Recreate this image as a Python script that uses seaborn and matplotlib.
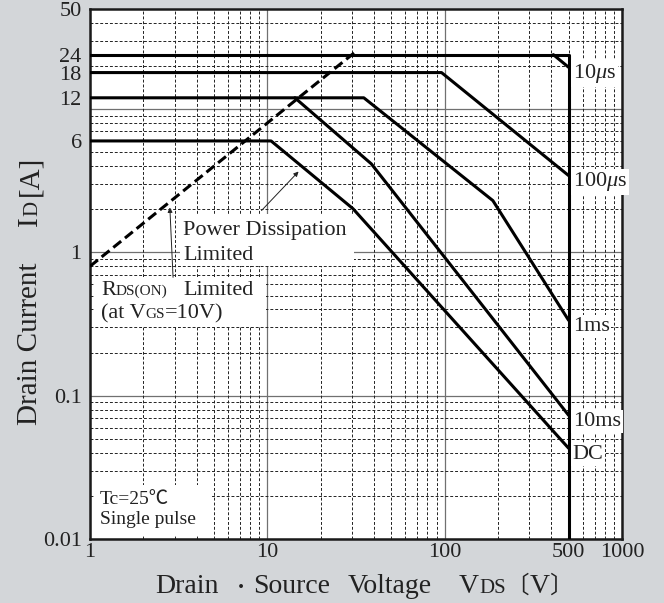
import matplotlib
matplotlib.use("Agg")
import matplotlib.pyplot as plt
import matplotlib.transforms as mtransforms
from matplotlib.patches import Rectangle
import pandas as pd
import seaborn as sns

# valores (V en volts, I en amperes)
lim_v = [1, 500, 500]
lim_i = [24, 24, 0.01]
us10_v = [410, 500]
us10_i = [24, 19.6]
us100_v = [1, 96, 500]
us100_i = [18, 18, 3.44]
ms1_v = [1, 35, 187, 500]
ms1_i = [12, 12, 2.3, 0.336]
ms10_v = [14.3, 38.6, 500]
ms10_i = [12, 4.15, 0.073]
dc_v = [1, 10.5, 30.4, 500]
dc_i = [6, 6, 2.02, 0.043]
rds_v = [1, 32]
rds_i = [0.8, 25.6]

curve_names = ["10$\\mu$s", "100$\\mu$s", "1ms", "10ms", "DC"]
curve_end_i = [19.6, 3.44, 0.336, 0.073, 0.043]

xticks = [1, 10, 100, 500, 1000]
xtick_labels = ["1", "10", "100", "500", "1000"]
yticks = [0.01, 0.1, 1, 6, 12, 18, 24, 50]
ytick_labels = ["0.01", "0.1", "1", "6", "12", "18", "24", "50"]

W, H = 664, 603
FONT = ["Liberation Serif", "Noto Sans CJK JP"]
INK = "#222222"

sns.set_theme(style="white")
plt.rcParams["font.family"] = FONT
plt.rcParams["mathtext.fontset"] = "custom"
plt.rcParams["mathtext.rm"] = "Liberation Serif"
plt.rcParams["mathtext.it"] = "Liberation Serif:italic"

fig = plt.figure(figsize=(W / 100, H / 100), dpi=100, facecolor="#d3d6d9")
ax = fig.add_axes([90 / W, 1 - 539 / H, 532 / W, 530 / H])
ax.set_facecolor("white")

# tabla larga con todas las curvas
partes = []
for nombre, v, i in [("lim", lim_v, lim_i), ("10us", us10_v, us10_i), ("100us", us100_v, us100_i),
                     ("1ms", ms1_v, ms1_i), ("10ms", ms10_v, ms10_i), ("dc", dc_v, dc_i)]:
    partes.append(pd.DataFrame({"curve": nombre, "v": v, "i": i}))
df = pd.concat(partes, ignore_index=True)

sns.lineplot(data=df, x="v", y="i", units="curve", estimator=None, sort=False,
             color="black", lw=2.2, ax=ax, zorder=3)
sns.lineplot(x=rds_v, y=rds_i, color="black", lw=2.2, linestyle=(0, (3.3, 1.6)),
             sort=False, ax=ax, zorder=3)

ax.set_xscale("log")
ax.set_yscale("log")
ax.set_xlim(1, 1000)
ax.set_ylim(0.01, 50)

# rejilla: decadas solidas, subdivisiones punteadas
for d in [1, 10, 100, 1000]:
    ax.axvline(d, color="#707070", lw=0.9, zorder=1)
for d in [0.01, 0.1, 1, 10]:
    ax.axhline(d, color="#707070", lw=0.9, zorder=1)
for d in [1, 10, 100]:
    for k in range(2, 10):
        ax.axvline(k * d, color="#222222", lw=0.7, ls=(0, (3, 2)), zorder=1)
for d in [0.01, 0.1, 1, 10]:
    for k in range(2, 10):
        if k * d < 50:
            ax.axhline(k * d, color="#222222", lw=0.7, ls=(0, (3, 2)), zorder=1)

ax.set_xticks(xticks, xtick_labels)
ax.set_yticks(yticks, ytick_labels)
ax.minorticks_off()
ax.tick_params(length=0, labelsize=16, colors=INK)
ax.tick_params(axis="x", pad=3)
ax.tick_params(axis="y", pad=6)
ax.set_xlabel("")
ax.set_ylabel("")
for s in ax.spines.values():
    s.set_color("#1a1a1a")
    s.set_linewidth(1.8)

# etiquetas de cada curva
for nombre, yi in zip(curve_names, curve_end_i):
    ax.annotate(nombre, xy=(500, yi), xytext=(3, -4.5), textcoords="offset points",
                fontsize=16, family="Liberation Serif", va="center", ha="left", color=INK,
                bbox=dict(boxstyle="square,pad=0.08", fc="white", ec="none"),
                annotation_clip=False, zorder=5)

# fondos blancos de los textos
for x0, y0, x1, y1 in [(180, 214, 354, 266), (94, 277, 266, 326), (95, 485, 211, 535)]:
    ax.add_patch(Rectangle((x0 / W, 1 - y1 / H), (x1 - x0) / W, (y1 - y0) / H,
                           transform=fig.transFigure, fc="white", ec="none",
                           zorder=2, clip_on=False))

flecha = dict(arrowstyle="-|>", lw=0.7, color=INK, mutation_scale=7, shrinkA=0, shrinkB=0)
ax.annotate("", xy=(15.0, 3.67), xytext=(9.27, 1.96), arrowprops=flecha, zorder=4)
ax.annotate("", xy=(2.82, 2.06), xytext=(2.94, 0.67), arrowprops=flecha, zorder=4)

renderer = fig.canvas.get_renderer()


def put_text(pieces, x0, y0, rotation=0):
    # pieces: (texto, tamaño, inicio); inicio en pixeles de imagen o None para seguir
    x, y = x0, H - y0
    for s, size, start in pieces:
        if start is not None:
            if rotation:
                y = H - start
            else:
                x = start
        t = fig.text(x, y, s, fontsize=size, family=FONT, color=INK, rotation=rotation,
                     rotation_mode="anchor", ha="left", va="baseline",
                     transform=mtransforms.IdentityTransform(), zorder=6)
        bb = t.get_window_extent(renderer)
        if rotation:
            y += bb.height
        else:
            x += bb.width


put_text([("Power Dissipation", 16, None)], 183, 235)
put_text([("Limited", 16, None)], 183, 260)
put_text([("R", 16, None), ("DS(ON)", 11, None), ("Limited", 16, 183)], 101, 295)
put_text([("(at V", 16, None), ("GS", 11, None), ("=10V)", 16, None)], 101, 318)
put_text([("Tc=25℃", 14, None)], 100, 504)
put_text([("Single pulse", 14, None)], 100, 524)

put_text([("Drain", 20, 155), ("・", 13, 232), ("Source", 20, 253), ("Voltage", 20, 348),
          ("V", 20, 459), ("DS", 15, None), ("〔", 17, None), ("V", 20, None), ("〕", 17, None)],
         155, 593)
put_text([("Drain Current", 21, 425), ("I", 21, 226), ("D", 15, None),
          ("[A]", 21, 196)], 37, 425, rotation=90)

fig.savefig("out.png", dpi=100, facecolor=fig.get_facecolor())
